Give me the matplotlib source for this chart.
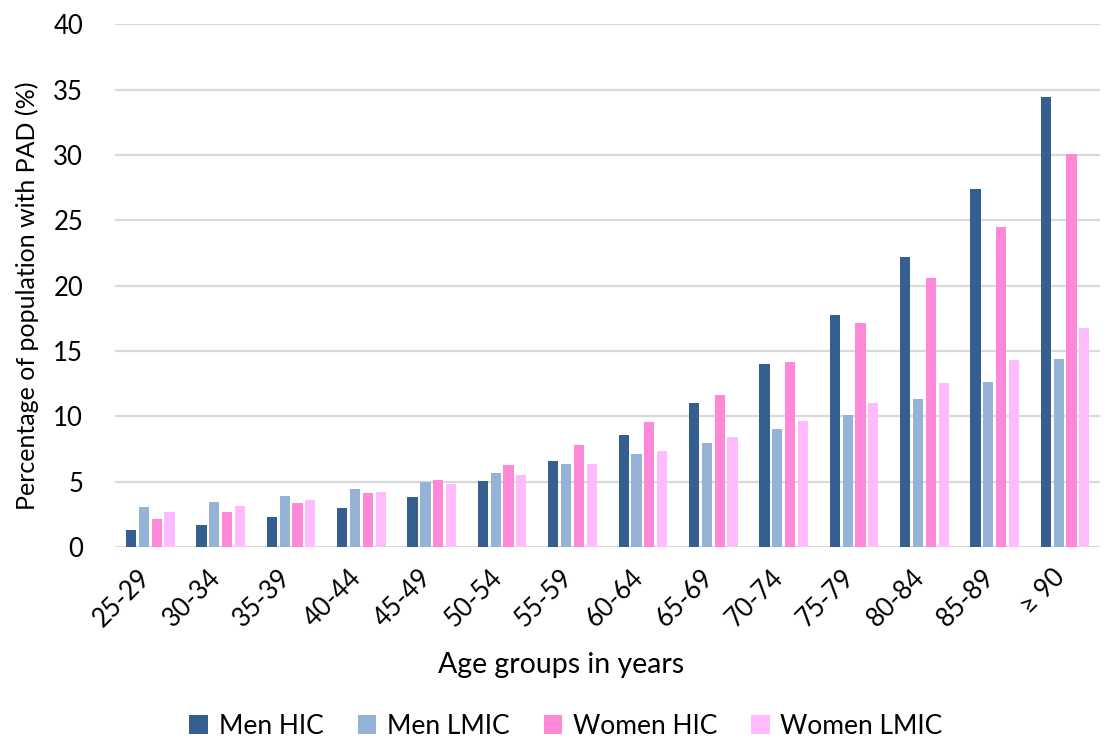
import numpy as np
import matplotlib.pyplot as plt
from matplotlib.transforms import ScaledTranslation

plt.rcParams['font.family'] = ['Lato', 'DejaVu Sans']

age_groups = ['25-29', '30-34', '35-39', '40-44', '45-49', '50-54', '55-59',
              '60-64', '65-69', '70-74', '75-79', '80-84', '85-89', '≥ 90']
men_hic = [1.28, 1.68, 2.25, 2.96, 3.85, 5.05, 6.55, 8.53, 10.98, 14.0, 17.74, 22.2, 27.4, 34.47]
men_lmic = [3.06, 3.47, 3.93, 4.44, 5.0, 5.62, 6.34, 7.1, 7.98, 9.02, 10.1, 11.3, 12.62, 14.37]
women_hic = [2.12, 2.65, 3.32, 4.13, 5.1, 6.3, 7.8, 9.56, 11.65, 14.17, 17.14, 20.57, 24.48, 30.05]
women_lmic = [2.68, 3.11, 3.6, 4.18, 4.82, 5.53, 6.37, 7.33, 8.4, 9.62, 11.02, 12.55, 14.3, 16.74]

series = [('Men HIC', men_hic, '#365F91'),
          ('Men LMIC', men_lmic, '#95B3D7'),
          ('Women HIC', women_hic, '#FF89D8'),
          ('Women LMIC', women_lmic, '#FFBBFF')]

fig = plt.figure(figsize=(11.07, 7.42), dpi=100)
ax = fig.add_axes([0.104, 0.263, 0.89, 0.704])

x = np.arange(len(age_groups))
step = 0.182
for i, (name, vals, col) in enumerate(series):
    ax.bar(x + (i - 1.5) * step, vals, width=0.145, color=col, label=name, zorder=3)

ax.set_xlim(-0.5, len(age_groups) - 0.5)
ax.set_ylim(0, 40)
ax.set_yticks(range(0, 41, 5))
ax.grid(axis='y', color='#D9D9D9', linewidth=1.6, zorder=0)
for s in ax.spines.values():
    s.set_visible(False)
ax.tick_params(axis='both', length=0, labelsize=18.5)
ax.tick_params(axis='y', pad=23)

ax.set_xticks(x)
ax.set_xticklabels(age_groups, rotation=45, ha='right', va='center', rotation_mode='anchor')
off = ScaledTranslation(-4 / 100, -22 / 100, fig.dpi_scale_trans)
for lab in ax.get_xticklabels():
    lab.set_transform(lab.get_transform() + off)

ax.set_ylabel('Percentage of population with PAD (%)', fontsize=18)
ax.yaxis.set_label_coords(-0.077, 0.48)
fig.text(561 / 1107, 1 - 665 / 742, 'Age groups in years', fontsize=20.5, ha='center', va='center')

fig.legend(loc='center', bbox_to_anchor=(566 / 1107, 1 - 726 / 742), ncol=4, frameon=False,
           fontsize=19, handlelength=0.7, handleheight=0.7, handletextpad=0.4, columnspacing=1.3)

fig.savefig('out.png', dpi=100)
